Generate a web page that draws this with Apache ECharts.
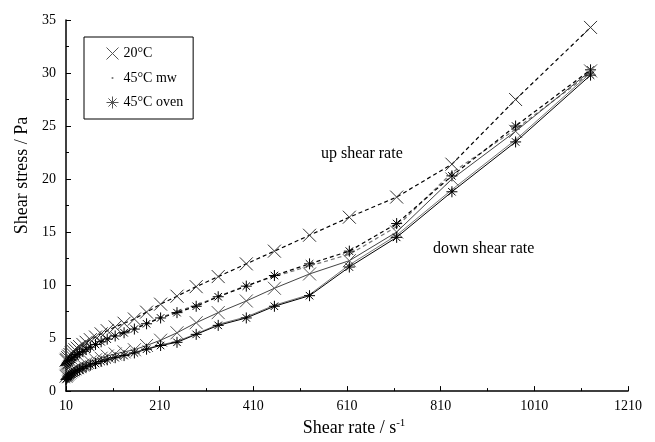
<!DOCTYPE html>
<html>
<head>
<meta charset="utf-8">
<script src="https://cdn.jsdelivr.net/npm/echarts@6/dist/echarts.min.js"></script>
<style>html,body{margin:0;padding:0;background:#fff}#c{width:655px;height:442px}</style>
</head>
<body>
<div id="c"></div>
<script>
// Shear rate (s^-1) at which the measurements were taken
var rate = [10, 11.6, 13.6, 15.8, 18.4, 21.4, 25, 29, 34, 39, 46, 53, 62, 73, 85, 98, 115, 134, 156, 182, 212, 247, 288, 335, 395, 455, 530, 615, 716, 834, 970, 1130];
// Shear stress (Pa), up shear rate sweeps
var up20 =   [2.9, 3.0, 3.15, 3.3, 3.45, 3.6, 3.75, 3.9, 4.05, 4.2, 4.4, 4.6, 4.85, 5.1, 5.4, 5.7, 6.05, 6.4, 6.8, 7.45, 8.2, 8.95, 9.85, 10.8, 12.0, 13.2, 14.7, 16.4, 18.3, 21.4, 27.5, 34.3];
var upMw =   [2.45, 2.55, 2.65, 2.8, 2.95, 3.05, 3.2, 3.35, 3.5, 3.65, 3.8, 4.0, 4.2, 4.45, 4.7, 4.95, 5.25, 5.55, 5.9, 6.4, 6.95, 7.5, 8.1, 8.95, 9.95, 10.8, 11.8, 12.9, 15.5, 20.6, 24.7, 30.0];
var upOven = [2.4, 2.5, 2.6, 2.75, 2.9, 3.0, 3.15, 3.3, 3.45, 3.6, 3.75, 3.95, 4.15, 4.4, 4.65, 4.9, 5.2, 5.5, 5.85, 6.35, 6.9, 7.4, 8.0, 8.9, 9.9, 10.9, 12.0, 13.2, 15.8, 20.3, 25.0, 30.3];
// Shear stress (Pa), down shear rate sweeps
var down20 =   [1.4, 1.5, 1.6, 1.7, 1.8, 1.9, 2.0, 2.1, 2.2, 2.3, 2.45, 2.6, 2.75, 2.95, 3.1, 3.3, 3.5, 3.7, 3.9, 4.3, 4.8, 5.5, 6.45, 7.4, 8.5, 9.7, 11.05, 12.3, 15.0, 20.0, 24.5, 30.2];
var downMw =   [1.15, 1.25, 1.35, 1.45, 1.55, 1.65, 1.75, 1.85, 1.95, 2.05, 2.2, 2.35, 2.5, 2.65, 2.85, 3.0, 3.2, 3.4, 3.65, 4.0, 4.35, 4.7, 5.4, 6.3, 7.0, 8.1, 9.1, 11.9, 14.7, 19.0, 23.7, 30.0];
var downOven = [1.1, 1.2, 1.3, 1.4, 1.5, 1.6, 1.7, 1.8, 1.9, 2.0, 2.15, 2.3, 2.45, 2.6, 2.8, 2.95, 3.15, 3.35, 3.6, 3.95, 4.3, 4.6, 5.35, 6.2, 6.9, 8.0, 9.0, 11.7, 14.5, 18.8, 23.5, 29.8];

var names = ['20°C', '45°C mw', '45°C oven'];
var annotations = ['up shear rate', 'down shear rate'];

function pairs(ys) { return rate.map(function (x, i) { return [x, ys[i]]; }); }

var X_PATH = 'path://M0,0L10,10M10,0L0,10';
var STAR_PATH = 'path://M5,0L5,10M0,5L10,5M1.6,1.6L8.4,8.4M8.4,1.6L1.6,8.4';
var DOT_PATH = 'path://M0,0L0.01,0M6,6L8,6L8,8L6,8ZM14,14L14.01,14';
var FONT = 'Liberation Serif';

function mk(name, ys, dashed, kind) {
  var col = kind === 'mw' ? '#777' : (kind === 'x' && !dashed ? '#444' : '#000');
  var s = {
    name: name, type: 'line', data: pairs(ys), animation: false,
    lineStyle: { color: col, width: dashed ? 1.2 : 1, type: dashed ? [4, 3] : 'solid' },
    emphasis: { disabled: true }
  };
  if (kind === 'x') {
    s.symbol = X_PATH; s.symbolSize = 13;
    s.itemStyle = { color: 'none', borderColor: dashed ? '#333' : '#555', borderWidth: 1 };
  } else if (kind === 'star') {
    s.symbol = STAR_PATH; s.symbolSize = 11;
    s.itemStyle = { color: 'none', borderColor: '#000', borderWidth: 1 };
  } else {
    s.symbol = 'circle'; s.symbolSize = 2.5;
    s.itemStyle = { color: '#555', borderWidth: 0 };
  }
  return s;
}

var chart = echarts.init(document.getElementById('c'));
chart.setOption({
  backgroundColor: '#fff',
  animation: false,
  grid: { left: 66, right: 27, top: 20, bottom: 42 },
  xAxis: {
    type: 'value', min: 10, max: 1210, interval: 200,
    name: 'Shear rate / s{sup|-1}', nameLocation: 'middle', nameGap: 23,
    nameTextStyle: { fontFamily: FONT, fontSize: 18, color: '#000', padding: [0, 0, 0, 14],
      rich: { sup: { fontFamily: FONT, fontSize: 11, color: '#000', verticalAlign: 'top', padding: [0, 0, 9, 0] } } },
    axisLine: { lineStyle: { color: '#000', width: 1.5 } },
    axisTick: { inside: true, length: 5, lineStyle: { color: '#000' } },
    minorTick: { show: true, splitNumber: 2, length: 3, lineStyle: { color: '#000' } },
    axisLabel: { fontFamily: FONT, fontSize: 14, color: '#000', margin: 8,
      formatter: function (v) { return String(v); } },
    splitLine: { show: false }
  },
  yAxis: {
    type: 'value', min: 0, max: 35, interval: 5,
    name: 'Shear stress / Pa', nameLocation: 'middle', nameGap: 25,
    nameTextStyle: { fontFamily: FONT, fontSize: 18, color: '#000', padding: [0, 0, 0, 60] },
    axisLine: { lineStyle: { color: '#000', width: 1.5 } },
    axisTick: { inside: true, length: 5, lineStyle: { color: '#000' } },
    minorTick: { show: true, splitNumber: 2, length: 3, lineStyle: { color: '#000' } },
    axisLabel: { fontFamily: FONT, fontSize: 14, color: '#000', margin: 10 },
    splitLine: { show: false }
  },
  legend: {
    orient: 'vertical', left: 84, top: 37, padding: [8, 10, 8, 20],
    borderColor: '#000', borderWidth: 1, itemGap: 9, itemWidth: 12, itemHeight: 12,
    textStyle: { fontFamily: FONT, fontSize: 14, color: '#000' },
    selectedMode: false,
    data: [
      { name: names[0], icon: X_PATH, itemStyle: { color: 'none', borderColor: '#555', borderWidth: 1 } },
      { name: names[1], icon: DOT_PATH, itemStyle: { color: '#555', borderWidth: 0 } },
      { name: names[2], icon: STAR_PATH, itemStyle: { color: 'none', borderColor: '#555', borderWidth: 1 } }
    ]
  },
  graphic: [
    { type: 'text', left: 321, top: 146, style: { text: annotations[0], font: '16px "Liberation Serif"', fill: '#000' } },
    { type: 'text', left: 433, top: 241, style: { text: annotations[1], font: '16px "Liberation Serif"', fill: '#000' } }
  ],
  series: [
    mk(names[0], up20, true, 'x'),
    mk(names[1], upMw, true, 'mw'),
    mk(names[2], upOven, true, 'star'),
    mk(names[0], down20, false, 'x'),
    mk(names[1], downMw, false, 'mw'),
    mk(names[2], downOven, false, 'star')
  ]
});
</script>
</body>
</html>
